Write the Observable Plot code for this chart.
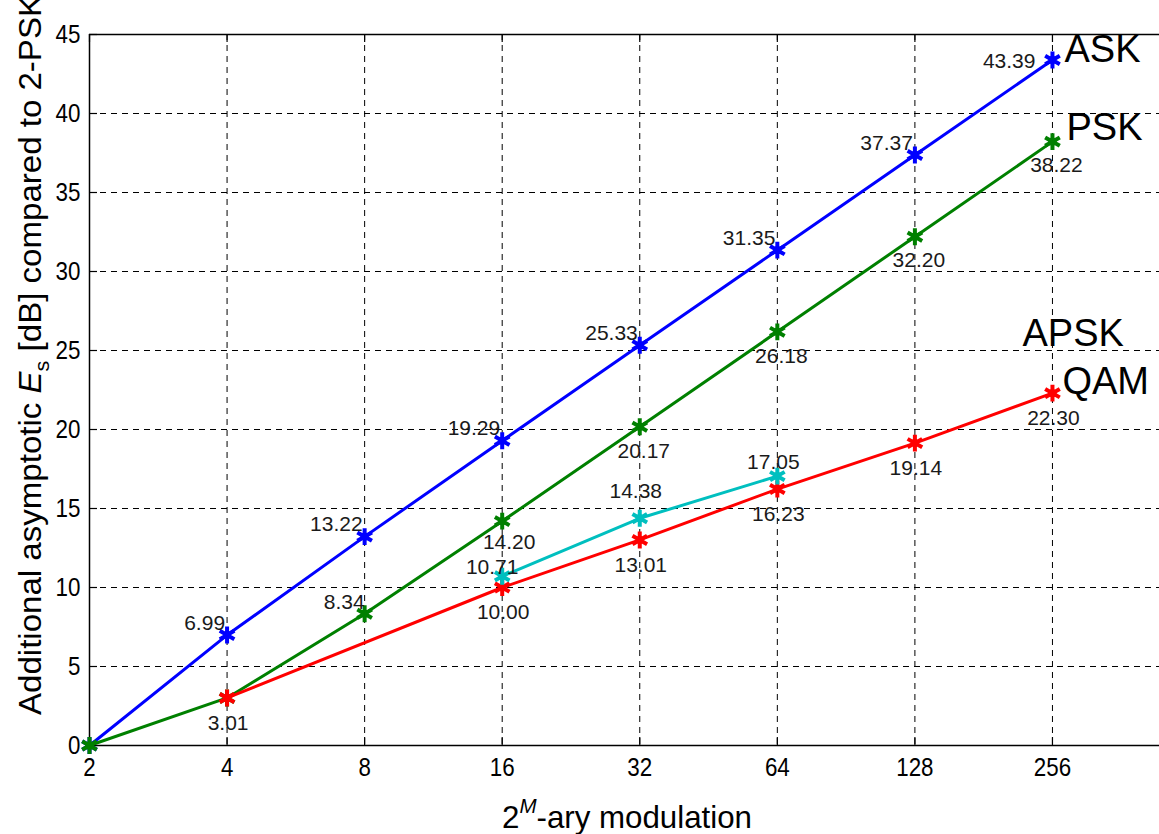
<!DOCTYPE html>
<html>
<head>
<meta charset="utf-8">
<script src="https://cdn.jsdelivr.net/npm/d3@7"></script>
<script src="https://cdn.jsdelivr.net/npm/@observablehq/plot@0.6"></script>
<style>
  html, body { margin: 0; padding: 0; background: #fff; }
  #chart svg { display: block; }
</style>
</head>
<body>
<div id="chart"></div>
<script>
// ---- data ----
const xTicks = [2, 4, 8, 16, 32, 64, 128, 256];
const yTicks = [0, 5, 10, 15, 20, 25, 30, 35, 40, 45];

const askM = [2, 4, 8, 16, 32, 64, 128, 256];
const askDB = [0, 6.99, 13.22, 19.29, 25.33, 31.35, 37.37, 43.39];

const pskM = [2, 4, 8, 16, 32, 64, 128, 256];
const pskDB = [0, 3.01, 8.34, 14.20, 20.17, 26.18, 32.20, 38.22];

const qamM = [4, 16, 32, 64, 128, 256];
const qamDB = [3.01, 10.00, 13.01, 16.23, 19.14, 22.30];

const apskM = [16, 32, 64];
const apskDB = [10.71, 14.38, 17.05];

const seriesNames = ["ASK", "PSK", "APSK", "QAM"];
const seriesColors = ["#0000ff", "#008000", "#00bfbf", "#ff0000"];

// ---- tables ----
const rows = (name, ms, vs) => ms.map((m, i) => ({series: name, m, v: vs[i]}));
const ask = rows("ASK", askM, askDB);
const psk = rows("PSK", pskM, pskDB);
const qam = rows("QAM", qamM, qamDB);
const apsk = rows("APSK", apskM, apskDB);
const color = name => seriesColors[seriesNames.indexOf(name)];

const font = "'Liberation Sans', Arial, Helvetica, sans-serif";
const fmt = d => d.v.toFixed(2);

const W = 1159, H = 834;
const mL = 89, mT = 34, mB = 89, mR = 0;
const plotH = H - mT - mB, plotW = W - mL - mR;

const lineMarks = (data) => [
  Plot.line(data, {x: "m", y: "v", stroke: color(data[0].series), strokeWidth: 3}),
  Plot.dot(data, {x: "m", y: "v", symbol: "asterisk", r: 8, stroke: color(data[0].series), strokeWidth: 4}),
  Plot.dot(data, {x: "m", y: "v", r: 4, fill: color(data[0].series), stroke: "none"})
];
const lbl = {fontSize: 21, fill: "#1a1a1a"};

const chart = Plot.plot({
  width: W,
  height: H,
  marginLeft: mL, marginTop: mT, marginBottom: mB, marginRight: mR,
  style: {fontFamily: font, background: "#fff", overflow: "visible"},
  x: {type: "log", base: 2, domain: [2, 439], ticks: xTicks, tickFormat: d => String(d)},
  y: {domain: [0, 45], ticks: yTicks},
  marks: [
    // grid
    Plot.ruleX(xTicks.slice(1), {stroke: "#000", strokeWidth: 1, strokeDasharray: "6,5"}),
    Plot.ruleY(yTicks.slice(1, -1), {stroke: "#000", strokeWidth: 1, strokeDasharray: "6,5"}),
    // inward ticks
    Plot.tickX(xTicks, {x: d => d, stroke: "#000", strokeWidth: 1.2, insetTop: plotH - 8}),
    Plot.tickX(xTicks, {x: d => d, stroke: "#000", strokeWidth: 1.2, insetBottom: plotH - 8}),
    Plot.tickY(yTicks, {y: d => d, stroke: "#000", strokeWidth: 1.2, insetRight: plotW - 8}),
    // frame lines
    Plot.ruleY([0], {stroke: "#000", strokeWidth: 1.5}),
    Plot.ruleY([45], {stroke: "#000", strokeWidth: 1.5}),
    Plot.ruleX([2], {stroke: "#000", strokeWidth: 1.5}),
    // axes
    Plot.axisX({ticks: xTicks, tickSize: 0, tickPadding: 12, fontSize: 26, tickFormat: d => String(d), label: null}),
    Plot.axisY({ticks: yTicks, tickSize: 0, tickPadding: 9, fontSize: 26, label: null}),
    // series
    ...lineMarks(ask),
    ...lineMarks(psk),
    ...lineMarks(qam),
    ...lineMarks(apsk),
    // value labels
    Plot.text(ask.filter(d => d.m > 2 && d.m < 256), {x: "m", y: "v", text: fmt, textAnchor: "end", dx: -2, dy: -12, ...lbl}),
    Plot.text(ask.filter(d => d.m === 256), {x: "m", y: "v", text: fmt, textAnchor: "end", dx: -17, dy: 1, ...lbl}),
    Plot.text(psk.filter(d => d.m === 8), {x: "m", y: "v", text: fmt, textAnchor: "end", dx: 0, dy: -11, ...lbl}),
    Plot.text(psk.filter(d => d.m === 16), {x: "m", y: "v", text: fmt, textAnchor: "middle", dx: 7, dy: 21, ...lbl}),
    Plot.text(psk.filter(d => d.m > 16), {x: "m", y: "v", text: fmt, textAnchor: "middle", dx: 4, dy: 24, ...lbl}),
    Plot.text(qam, {x: "m", y: "v", text: fmt, textAnchor: "middle", dx: 1, dy: 25, ...lbl}),
    Plot.text(apsk.filter(d => d.m === 16), {x: "m", y: "v", text: fmt, textAnchor: "middle", dx: -10, dy: -9, ...lbl}),
    Plot.text(apsk.filter(d => d.m === 64), {x: "m", y: "v", text: fmt, textAnchor: "middle", dx: -4, dy: -14, ...lbl}),
    Plot.text(apsk.filter(d => d.m === 32), {x: "m", y: "v", text: fmt, textAnchor: "middle", dx: -4, dy: -27, ...lbl}),
    // series labels
    Plot.text([ask[ask.length - 1]], {x: "m", y: "v", text: d => d.series, textAnchor: "start", dx: 12, dy: -10, fontSize: 38, fill: "#000"}),
    Plot.text([psk[psk.length - 1]], {x: "m", y: "v", text: d => d.series, textAnchor: "start", dx: 14, dy: -14, fontSize: 38, fill: "#000"}),
    Plot.text([qam[qam.length - 1]], {x: "m", y: "v", text: () => seriesNames[2], textAnchor: "start", dx: -30, dy: -59, fontSize: 38, fill: "#000"}),
    Plot.text([qam[qam.length - 1]], {x: "m", y: "v", text: d => d.series, textAnchor: "start", dx: 10, dy: -11, fontSize: 38, fill: "#000"})
  ]
});

// axis titles with sub/superscripts
const svg = d3.select(chart);
const yl = svg.append("text")
  .attr("transform", `translate(41, 355) rotate(-90)`)
  .attr("text-anchor", "middle")
  .attr("font-family", font)
  .attr("font-size", 32)
  .attr("fill", "#000");
yl.append("tspan").text("Additional asymptotic ");
yl.append("tspan").attr("font-style", "italic").text("E");
yl.append("tspan").attr("font-size", 21).attr("dy", 8).text("s");
yl.append("tspan").attr("dy", -8).text(" [dB] compared to 2-PSK");

const xl = svg.append("text")
  .attr("x", 627).attr("y", 828)
  .attr("text-anchor", "middle")
  .attr("font-family", font)
  .attr("font-size", 32)
  .attr("fill", "#000");
xl.append("tspan").text("2");
xl.append("tspan").attr("font-style", "italic").attr("font-size", 21).attr("dy", -15).text("M");
xl.append("tspan").attr("dy", 15).text("-ary modulation");

document.getElementById("chart").appendChild(chart);

// condense the text to match the narrow reference face
function condense(sel, k, target) {
  sel.each(function () {
    const L = this.getComputedTextLength();
    if (L > 0) {
      this.setAttribute("textLength", (target || L * k).toFixed(1));
      this.setAttribute("lengthAdjust", "spacingAndGlyphs");
    }
  });
}
condense(svg.selectAll('g[aria-label="x-axis tick label"] text, g[aria-label="y-axis tick label"] text'), 0.86);
condense(yl, 1, 720);
condense(xl, 1, 250);
</script>
</body>
</html>
